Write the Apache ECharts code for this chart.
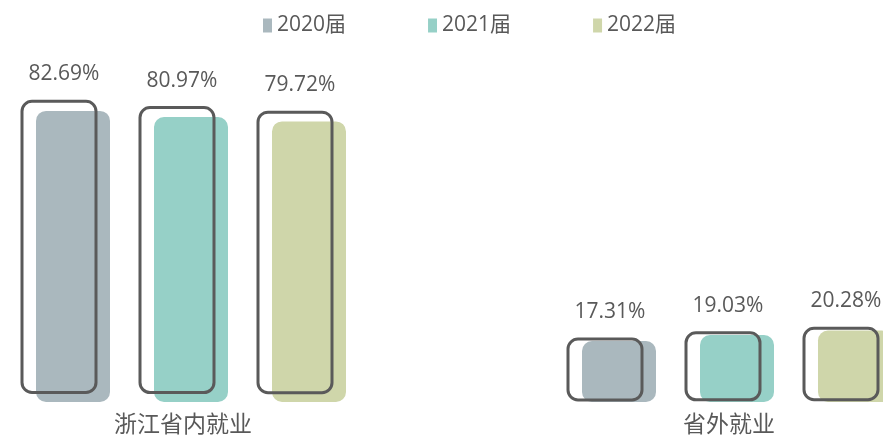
<!DOCTYPE html>
<html lang="zh">
<head>
    <meta charset="UTF-8">
    <title>就业地区分布</title>
    <script src="https://cdn.jsdelivr.net/npm/echarts@6.0.0/dist/echarts.min.js"></script>
    <style>
        html, body { margin: 0; padding: 0; background: #fff; }
        #chart { width: 883px; height: 436px; }
    </style>
</head>
<body>
    <div id="chart"></div>
    <script>
        // 数据
        const categories = ['浙江省内就业', '省外就业'];
        const seriesNames = ['2020届', '2021届', '2022届'];
        const values2020 = [82.69, 17.31];
        const values2021 = [80.97, 19.03];
        const values2022 = [79.72, 20.28];

        const colors = ['#AAB8BE', '#96D0C7', '#CFD6AA'];
        const textColor = '#595959';
        const barOffsets = [-118, 0, 118];
        const barWidth = 74;

        function renderBar(params, api) {
            const idx = api.value(0);
            const val = api.value(1);
            const top = api.coord([idx, val]);
            const base = api.coord([idx, 0]);
            const cx = top[0] + barOffsets[params.seriesIndex];
            const h = base[1] - top[1];
            const dy = h * 0.033;
            const outlineTop = top[1] - dy;
            return {
                type: 'group',
                children: [
                    {
                        type: 'rect',
                        shape: { x: cx - barWidth / 2, y: top[1], width: barWidth, height: h, r: 10 },
                        style: { fill: colors[params.seriesIndex] }
                    },
                    {
                        type: 'rect',
                        shape: { x: cx - barWidth / 2 - 14, y: outlineTop, width: barWidth, height: h, r: 10 },
                        style: { fill: 'none', stroke: '#5a5a5a', lineWidth: 3 }
                    },
                    {
                        type: 'text',
                        x: cx - 9,
                        y: outlineTop - 27,
                        style: {
                            text: val.toFixed(2) + '%',
                            align: 'center',
                            verticalAlign: 'middle',
                            fill: textColor,
                            font: '21px "Open Sans"'
                        }
                    }
                ]
            };
        }

        const allValues = [values2020, values2021, values2022];

        const chart = echarts.init(document.getElementById('chart'));
        chart.setOption({
            animation: false,
            legend: {
                top: 10,
                left: 258,
                itemWidth: 9,
                itemHeight: 14,
                itemGap: 82,
                icon: 'rect',
                textStyle: { color: textColor, fontSize: 21, fontFamily: '"Open Sans", "Noto Sans CJK SC"' },
                data: seriesNames
            },
            grid: { left: 191, right: 146, top: 50, bottom: 34 },
            xAxis: {
                type: 'category',
                data: categories,
                boundaryGap: false,
                axisLine: { show: false },
                axisTick: { show: false },
                axisLabel: {
                    color: textColor,
                    fontSize: 23,
                    margin: 10,
                    padding: [0, 16, 0, 0],
                    fontFamily: '"Noto Sans CJK SC"'
                }
            },
            yAxis: { type: 'value', min: 0, max: 100, show: false },
            series: seriesNames.map((name, i) => ({
                name: name,
                type: 'custom',
                renderItem: renderBar,
                itemStyle: { color: colors[i] },
                encode: { x: 0, y: 1 },
                data: allValues[i].map((v, j) => [j, v])
            }))
        });
    </script>
</body>
</html>
